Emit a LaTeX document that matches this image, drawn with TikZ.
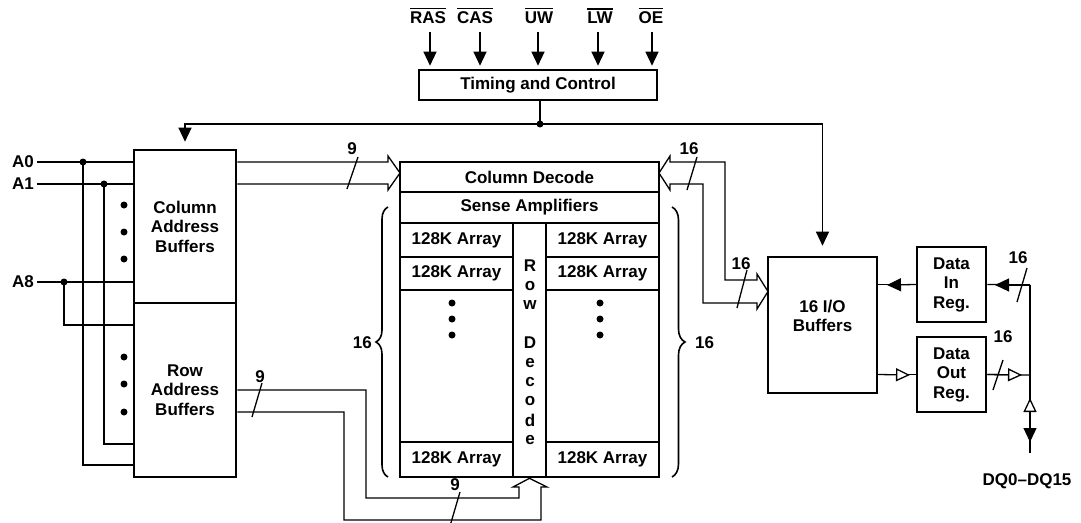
\documentclass[tikz,border=0pt]{standalone}
\usepackage{fontspec}
\setmainfont{Liberation Sans}
\usetikzlibrary{arrows.meta,decorations.pathreplacing}
\newcommand\myovl[1]{\leavevmode\setbox0\hbox{#1}\rlap{\rule[\dimexpr\ht0+2.5pt\relax]{\wd0}{1.3pt}}\box0}
\begin{document}
\begin{tikzpicture}[x=1pt,y=-1pt,
  font=\fontsize{17}{19.5}\selectfont\bfseries,
  blk/.style={draw, line width=2.6pt, inner sep=0pt, align=center},
  wire/.style={line width=1.3pt, line join=miter},
  arr/.style={wire, -{Triangle[length=14pt,width=13pt]}},
  oarr/.style={wire, -{Triangle[open,length=14pt,width=13pt,fill=white]}},
  jdot/.style={circle, fill, inner sep=0pt, minimum size=7pt},
  txt/.style={inner sep=0pt},
  bracestyle/.style={line width=1.6pt, decorate}]
\fill[white] (0,0) rectangle (1081,522);
\useasboundingbox (0,0) rectangle (1081,522);

% Timing and control
\node[blk, minimum width=238pt, minimum height=30pt] (tc) at (538,85) {Timing and Control};
\foreach \lx/\ax/\t/\n in {428/430/RAS/ras, 475/480/CAS/cas, 539/538/UW/uw, 600/598/LW/lw, 651/652/OE/oe} {
  \node[txt] (l\n) at (\lx,16) {\myovl{\t}};
  \coordinate (s\n) at (\ax,32);
  \draw[arr, shorten >=3pt] (s\n) -- (s\n |- tc.north);
}

% address buffers
\node[blk, minimum width=102pt, minimum height=153pt] (cab) at (185,226.5) {Column\\Address\\Buffers};
\node[blk, minimum width=102pt, minimum height=174pt] (rab) at (185,390) {Row\\Address\\Buffers};

% control bus
\coordinate (cj) at (540,124);
\draw[wire] (tc.south -| cj) -- (cj);
\draw[arr, shorten >=7pt] (cj) -| (cab.north);

% memory block
\node[blk, minimum width=259pt, minimum height=30pt] (cd) at (529.5,177) {Column Decode};
\node[blk, minimum width=259pt, minimum height=31pt] (sa) at (529.5,207.5) {Sense Amplifiers};
\node[blk, minimum width=113pt, minimum height=34pt] (l1) at (456.5,240) {128K Array};
\node[blk, minimum width=113pt, minimum height=33pt] (l2) at (456.5,273.5) {128K Array};
\node[blk, minimum width=113pt, minimum height=152pt] (l3) at (456.5,366) {};
\node[blk, minimum width=113pt, minimum height=35pt] (l4) at (456.5,459.5) {128K Array};
\node[blk, minimum width=113pt, minimum height=34pt] (r1) at (602.5,240) {128K Array};
\node[blk, minimum width=113pt, minimum height=33pt] (r2) at (602.5,273.5) {128K Array};
\node[blk, minimum width=113pt, minimum height=152pt] (r3) at (602.5,366) {};
\node[blk, minimum width=113pt, minimum height=35pt] (r4) at (602.5,459.5) {128K Array};
\node[blk, minimum width=33pt, minimum height=254pt] (rd) at (529.5,350) {};
\foreach \c/\y in {R/266, o/286, w/305, D/343, e/363, c/382, o/401, d/420, e/440}
  \node[txt] at (530,\y) {\c};
\foreach \y in {303,319,335} {
  \fill (452,\y) circle (3.5pt);
  \fill (600,\y) circle (3.5pt);
}

% braces
\draw[bracestyle, decoration={brace, amplitude=12pt}] (388,477) -- (388,207);
\node[txt, anchor=east] (b1) at (372,343) {16};
\draw[bracestyle, decoration={brace, amplitude=13pt}] (672,207) -- (672,477);
\node[txt, anchor=west] (b2) at (695,343) {16};

% I/O and data registers
\node[blk, minimum width=109pt, minimum height=136pt] (io) at (822.5,325) {};
\node[txt, align=center] (iot) at (822.5,316) {16 I/O\\Buffers};
\draw[arr, shorten >=10pt] (cj) -| (io.north);
\node[jdot] at (cj) {};
\node[blk, minimum width=69pt, minimum height=75pt] (din) at (951.5,284.5) {Data\\In\\Reg.};
\node[blk, minimum width=69pt, minimum height=75pt] (dout) at (951.5,374.5) {Data\\Out\\Reg.};

% left address inputs
\node[txt, anchor=east] (la0) at (34,162) {A0};
\node[txt, anchor=east] (la1) at (34,184) {A1};
\node[txt, anchor=east] (la8) at (34,282) {A8};
\draw[wire, shorten <=3pt] (la0.east) -- (la0.east -| cab.west);
\draw[wire, shorten <=3pt] (la1.east) -- (la1.east -| cab.west);
\draw[wire, shorten <=3pt] (la8.east) -- (la8.east -| cab.west);
\coordinate (j0) at (83,162);
\coordinate (j1) at (104,184);
\coordinate (j8) at (64,282);
\draw[wire] (j0) -- (83,465) -- (134,465);
\draw[wire] (j1) -- (104,444) -- (134,444);
\draw[wire] (j8) -- (64,325) -- (134,325);
\node[jdot] at (j0) {};
\node[jdot] at (j1) {};
\node[jdot] at (j8) {};
\foreach \y in {205,232,259,357,384,412} \fill (124,\y) circle (3.5pt);

% column address bus
\draw[wire] (cab.east |- la0) -- (388,162) -- (388,156) -- (400,173) -- (388,190) -- (388,184) -- (cab.east |- la1);
\draw[wire] (347,189) -- (358,157);
\node[txt] (n9a) at (352,149) {9};

% row address bus
\draw[wire] (rab.east |- 0,390) -- (366,390) -- (366,498) -- (519,498) -- (519,487) -- (513,487)
  -- (rd.south) -- (547,487) -- (541,487) -- (541,520) -- (344,520) -- (344,412) -- (rab.east |- 0,412);
\draw[wire] (252,417) -- (262,383);
\node[txt] (n9b) at (260,377) {9};
\draw[wire] (450,526) -- (460,492);
\node[txt] (n9c) at (455,485) {9};

% data bus between column decode and I/O
\draw[wire] (768,291.5) -- (757,274) -- (757,280) -- (725,280) -- (725,162) -- (670,162) -- (670,156)
  -- (659,173) -- (670,190) -- (670,184) -- (703,184) -- (703,303) -- (757,303) -- (757,309) -- cycle;
\draw[wire] (687,190) -- (697,157);
\node[txt] (n16a) at (689,149) {16};
\draw[wire] (737,308) -- (747,270);
\node[txt] (n16b) at (741,264) {16};

% data in / out paths
\coordinate (bt) at (1030,285);
\coordinate (bm) at (1030,375);
\coordinate (bb) at (1030,453);
\draw[wire] (bt) -- (bb);
\draw[wire] (bt) -- (din.east);
\draw[arr] (bt) -- (995,285);
\draw[wire] (1017,302) -- (1027,268);
\node[txt] (n16c) at (1018,258) {16};
\draw[wire] (din.west) -- (io.east |- din.west);
\draw[arr] (din.west) -- (887,285);
\draw[wire] (io.east |- dout.west) -- (dout.west);
\draw[oarr] (io.east |- dout.west) -- (910,375);
\draw[wire] (dout.east) -- (bm);
\draw[oarr] (dout.east) -- (1022,375);
\draw[wire] (993,390) -- (1003,360);
\node[txt] (n16d) at (1003,337) {16};
\draw[oarr] (1030,413) -- (1030,398);
\draw[arr] (1030,427) -- (1030,442);
\node[txt] (dq) at (1027,481) {DQ0–DQ15};
\end{tikzpicture}
\end{document}
